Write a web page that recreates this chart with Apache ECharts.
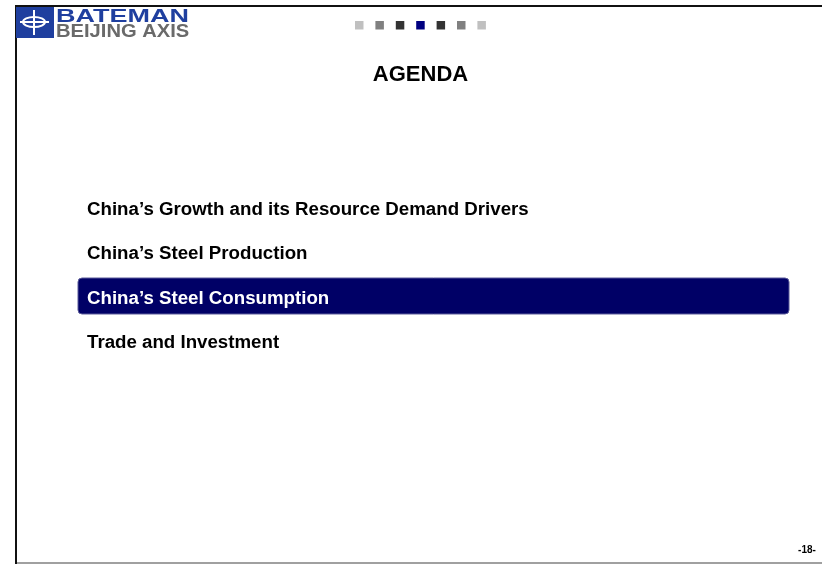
<!DOCTYPE html>
<html>
<head>
<meta charset="utf-8">
<script src="https://cdn.jsdelivr.net/npm/echarts@6/dist/echarts.min.js"></script>
<style>
  html, body { margin: 0; padding: 0; background: #fff; }
  #slide { width: 822px; height: 564px; }
</style>
</head>
<body>
<div id="slide"></div>
<script>
  // slide content
  const title = 'AGENDA';
  const agendaItems = [
    'China\u2019s Growth and its Resource Demand Drivers',
    'China\u2019s Steel Production',
    'China\u2019s Steel Consumption',
    'Trade and Investment'
  ];
  const activeItem = 2;
  const navColors = ['#c0c0c0', '#808080', '#333333', '#000080', '#333333', '#808080', '#c0c0c0'];
  const pageLabel = '-18-';

  const FONT = '"Liberation Sans", Arial, Helvetica, sans-serif';
  const chart = echarts.init(document.getElementById('slide'), null, { renderer: 'canvas' });

  const txt = (text, x, y, size, fill, align, extra) => Object.assign({
    type: 'text',
    style: {
      text, x, y, fill,
      font: `bold ${size}px ${FONT}`,
      align, textAlign: align,
      verticalAlign: 'middle', textVerticalAlign: 'middle'
    }
  }, extra || {});

  const elements = [];

  // frame
  elements.push(
    { type: 'rect', shape: { x: 15, y: 5, width: 807, height: 2 }, style: { fill: '#111' } },
    { type: 'rect', shape: { x: 15, y: 5, width: 2, height: 559 }, style: { fill: '#111' } },
    { type: 'rect', shape: { x: 17, y: 562, width: 805, height: 2 }, style: { fill: '#a0a0a0' } }
  );

  // logo
  elements.push(
    { type: 'rect', shape: { x: 16, y: 7, width: 38, height: 31 }, style: { fill: '#1f3f9f' } },
    { type: 'ellipse', shape: { cx: 34, cy: 22, rx: 11, ry: 5 }, style: { fill: null, stroke: '#fff', lineWidth: 2 } },
    { type: 'line', shape: { x1: 20, y1: 22, x2: 49, y2: 22 }, style: { stroke: '#fff', lineWidth: 2 } },
    { type: 'line', shape: { x1: 34, y1: 10, x2: 34, y2: 35 }, style: { stroke: '#fff', lineWidth: 2 } },
    txt('BATEMAN', 56, 16.5, 19, '#1f3f9f', 'left', { scaleX: 1.42, originX: 56, originY: 16.5 }),
    txt('BEIJING AXIS', 56, 32, 18, '#6a6a6a', 'left', { scaleX: 1.12, originX: 56, originY: 32 })
  );

  // section navigation squares
  navColors.forEach((c, i) => {
    elements.push({
      type: 'rect',
      shape: { x: 355 + i * 20.4, y: 21, width: 8.5, height: 8.5 },
      style: { fill: c }
    });
  });

  // title
  elements.push(txt(title, 420.5, 75, 22, '#000', 'center'));

  // highlight bar behind the current section
  elements.push({
    type: 'rect',
    shape: { x: 78, y: 278, width: 711, height: 36, r: 4 },
    style: { fill: '#000066', stroke: '#5a5a9a', lineWidth: 1 }
  });

  // agenda list
  agendaItems.forEach((item, i) => {
    elements.push(txt(item, 87, 209.5 + i * 44.5, 18.7, i === activeItem ? '#fff' : '#000', 'left'));
  });

  // page number
  elements.push(txt(pageLabel, 807, 550, 10, '#000', 'center'));

  chart.setOption({
    backgroundColor: '#fff',
    animation: false,
    graphic: { elements }
  });

  window.addEventListener('resize', () => chart.resize());
</script>
</body>
</html>
